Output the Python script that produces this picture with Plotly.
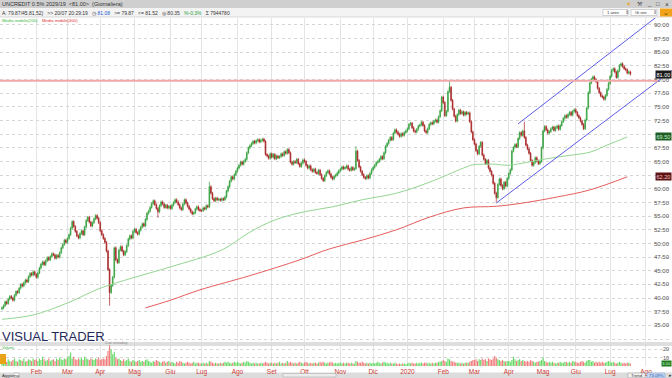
import numpy as np
import pandas as pd
import plotly.graph_objects as go

START = "2019-01-02"

# ---- daily closes, one list per month ----
c_2019_01 = [38.2, 38.6, 39.3, 39.0, 39.8, 40.3, 40.0, 39.6, 40.5, 41.2, 41.0, 41.8, 42.5, 42.2, 42.8, 43.3, 43.0, 43.9, 44.5, 44.2, 44.8, 44.3]
c_2019_02 = [43.8, 44.6, 45.5, 46.2, 46.6, 46.1, 46.8, 47.4, 47.0, 47.6, 48.1, 47.9, 47.3, 47.8, 47.5, 48.3, 49.2, 49.8, 50.6, 50.2]
c_2019_03 = [50.9, 51.6, 52.8, 54.0, 53.1, 52.2, 51.4, 51.0, 51.8, 52.3, 51.6, 53.0, 54.2, 54.8, 53.9, 53.2, 53.8, 54.5, 55.1, 54.6, 53.8]
c_2019_04 = [52.3, 51.6, 50.9, 50.2, 48.6, 45.2, 41.0, 42.3, 43.8, 49.2, 47.0, 46.5, 48.8, 49.4, 48.6, 47.9, 48.5, 49.6, 50.8, 51.4, 51.0, 52.2]
c_2019_05 = [52.6, 52.0, 51.7, 52.4, 53.0, 53.6, 53.2, 54.4, 55.5, 55.9, 56.6, 57.3, 57.8, 57.1, 56.4, 55.8, 56.9, 57.6, 57.2, 56.6, 57.0, 56.5, 56.8]
c_2019_06 = [56.4, 57.0, 57.5, 58.0, 57.6, 57.1, 56.5, 56.2, 57.2, 58.0, 57.4, 56.8, 56.3, 55.8, 55.4, 55.6, 56.3, 56.7, 56.2, 56.0]
c_2019_07 = [56.0, 56.5, 56.3, 56.9, 56.7, 60.4, 59.2, 58.2, 57.8, 58.3, 58.0, 58.1, 57.9, 58.2, 58.0, 58.5, 59.6, 60.4, 61.4, 62.2, 61.8, 62.6, 63.2]
c_2019_08 = [63.8, 64.3, 64.9, 64.5, 65.0, 65.4, 66.6, 67.5, 67.9, 68.3, 68.7, 68.4, 68.8, 69.0, 68.6, 68.9, 69.1, 68.7, 66.3, 66.0, 65.6, 66.4]
c_2019_09 = [65.8, 66.3, 65.5, 66.0, 65.7, 65.9, 66.4, 66.1, 66.8, 66.5, 67.2, 66.6, 64.9, 64.5, 65.0, 64.8, 65.4, 64.6, 64.1, 64.7, 65.3]
c_2019_10 = [65.0, 64.3, 63.8, 64.2, 63.5, 63.2, 63.6, 63.0, 62.8, 63.4, 62.6, 61.9, 61.5, 62.4, 63.0, 63.3, 62.7, 62.1, 61.8, 62.3, 62.5, 62.9, 63.3]
c_2019_11 = [63.6, 64.0, 63.7, 63.9, 64.2, 63.6, 63.4, 63.9, 63.5, 63.7, 66.9, 65.2, 64.0, 63.2, 62.6, 62.1, 61.9, 62.4, 62.0, 62.8, 63.5]
c_2019_12 = [63.9, 64.3, 64.8, 65.0, 65.4, 65.9, 65.5, 66.6, 67.8, 68.3, 68.9, 69.4, 69.0, 70.2, 70.8, 70.4, 70.0, 69.6, 70.1, 69.8, 70.3, 70.6]
c_2020_01 = [71.0, 71.8, 72.0, 71.2, 70.6, 70.4, 70.9, 71.5, 71.7, 72.2, 71.6, 70.6, 70.3, 71.0, 71.8, 72.1, 71.9, 72.4, 72.6, 72.2, 73.2, 74.3, 76.8]
c_2020_02 = [75.8, 73.4, 74.2, 77.8, 78.6, 76.2, 74.6, 73.3, 72.4, 73.6, 74.4, 73.8, 74.1, 73.5, 74.0, 73.7, 73.9, 72.3, 70.4, 69.0]
c_2020_03 = [68.2, 67.0, 66.4, 67.8, 68.5, 66.2, 65.4, 64.6, 65.2, 63.8, 63.2, 62.5, 61.0, 59.2, 58.4, 60.8, 61.8, 60.6, 60.0, 61.2, 60.5, 61.9]
c_2020_04 = [62.8, 63.5, 66.9, 67.6, 68.1, 67.7, 69.2, 70.3, 69.8, 70.6, 69.4, 68.0, 67.3, 66.5, 65.2, 64.3, 64.8, 65.7, 65.1, 64.6, 65.0, 67.5]
c_2020_05 = [70.6, 71.4, 70.8, 70.2, 70.5, 71.0, 71.3, 70.7, 71.2, 71.5, 70.9, 71.6, 72.3, 72.9, 73.4, 73.1, 73.6, 74.0, 73.5, 74.2, 74.5]
c_2020_06 = [74.0, 73.4, 73.0, 72.4, 71.8, 71.0, 72.6, 74.8, 77.6, 79.4, 80.1, 80.5, 80.0, 79.6, 78.4, 77.6, 77.0, 76.8, 76.4, 77.1, 78.2, 79.3]
c_2020_07 = [80.6, 81.7, 82.0, 81.4, 80.4, 81.6, 82.6, 82.9, 82.4, 82.0, 81.8, 81.2, 81.4, 81.0]

# ---- daily volumes (millions), one list per month ----
v_2019_01 = [5, 6, 7, 5, 8, 6, 5, 7, 9, 6, 5, 8, 7, 6, 9, 5, 6, 8, 7, 6, 9, 7]
v_2019_02 = [8, 6, 9, 7, 11, 8, 6, 7, 9, 6, 7, 8, 6, 9, 7, 10, 8, 7, 9, 8]
v_2019_03 = [10, 12, 16, 9, 11, 8, 7, 9, 8, 10, 7, 11, 9, 8, 7, 9, 8, 7, 9, 8, 10]
v_2019_04 = [7, 8, 9, 8, 12, 18, 25, 20, 14, 17, 10, 8, 9, 7, 6, 8, 6, 7, 9, 6, 5, 7]
v_2019_05 = [6, 5, 6, 7, 5, 6, 5, 7, 8, 6, 5, 4, 6, 5, 7, 6, 5, 4, 5, 6, 4, 5, 6]
v_2019_06 = [4, 5, 4, 3, 5, 4, 6, 5, 4, 3, 4, 5, 4, 3, 4, 5, 3, 4, 4, 3]
v_2019_07 = [3, 4, 3, 4, 3, 6, 5, 4, 3, 4, 3, 3, 4, 3, 4, 5, 4, 5, 4, 3, 4, 5, 4]
v_2019_08 = [5, 4, 3, 4, 5, 4, 6, 5, 4, 3, 4, 3, 4, 3, 3, 4, 3, 4, 5, 4, 3, 4]
v_2019_09 = [4, 3, 4, 3, 4, 5, 3, 4, 3, 4, 6, 4, 5, 4, 3, 4, 3, 4, 5, 4, 3]
v_2019_10 = [4, 5, 4, 3, 4, 3, 4, 4, 3, 4, 5, 4, 5, 4, 3, 4, 4, 5, 4, 3, 4, 3, 4]
v_2019_11 = [4, 3, 4, 3, 4, 4, 3, 4, 3, 3, 6, 5, 4, 4, 5, 4, 3, 4, 3, 4, 3]
v_2019_12 = [4, 3, 4, 5, 4, 3, 4, 5, 4, 4, 3, 4, 3, 3, 4, 3, 2, 3, 2, 3, 3, 2]
v_2020_01 = [3, 4, 3, 4, 3, 3, 4, 3, 4, 4, 3, 4, 4, 3, 4, 3, 4, 3, 4, 4, 5, 5, 6]
v_2020_02 = [7, 6, 5, 9, 8, 6, 5, 5, 4, 4, 4, 3, 4, 3, 4, 4, 4, 5, 6, 7]
v_2020_03 = [7, 8, 6, 8, 7, 9, 7, 8, 6, 9, 8, 7, 9, 12, 10, 8, 7, 6, 7, 6, 5, 6]
v_2020_04 = [6, 5, 7, 11, 8, 6, 7, 8, 6, 7, 6, 5, 6, 5, 7, 6, 5, 4, 5, 5, 6, 7]
v_2020_05 = [10, 6, 5, 4, 5, 4, 5, 4, 3, 4, 4, 5, 4, 4, 5, 5, 4, 5, 4, 6, 5]
v_2020_06 = [5, 4, 4, 5, 6, 5, 4, 6, 7, 7, 5, 6, 4, 5, 4, 5, 4, 5, 4, 4, 5, 6]
v_2020_07 = [5, 4, 5, 4, 3, 4, 5, 4, 3, 4, 3, 4, 4, 3]

first_open = 38.0
low_spikes = {"2019-04-09": 38.6, "2019-05-22": 54.7, "2020-03-20": 57.5}
high_spikes = {"2019-07-08": 61.3, "2019-11-15": 67.8, "2020-02-07": 79.8, "2020-04-15": 72.3}

# moving averages
ma200_dates = ["2019-01-02", "2019-01-30", "2019-03-01", "2019-04-01", "2019-04-30", "2019-06-03", "2019-07-18",
               "2019-08-12", "2019-09-04", "2019-10-01", "2019-10-25", "2019-11-21", "2019-12-23", "2020-01-21",
               "2020-02-20", "2020-02-28", "2020-03-12", "2020-03-20", "2020-03-31", "2020-04-14", "2020-04-29",
               "2020-05-14", "2020-05-28", "2020-06-12", "2020-06-29", "2020-07-16"]
ma200_vals = [36.1, 36.9, 39.1, 41.8, 43.7, 45.7, 48.8, 51.9, 54.3, 55.8, 56.7, 58.0, 59.2, 61.2,
              63.8, 64.4, 64.5, 64.5, 64.3, 64.7, 65.3, 65.8, 66.2, 66.7, 68.0, 69.5]
ma400_dates = ["2019-05-10", "2019-06-03", "2019-06-28", "2019-08-13", "2019-09-26", "2019-10-23", "2019-11-21",
               "2019-12-23", "2020-01-21", "2020-02-20", "2020-03-20", "2020-04-14", "2020-05-14", "2020-06-12",
               "2020-07-16"]
ma400_vals = [38.2, 39.6, 41.5, 44.1, 47.0, 49.0, 50.6, 52.5, 54.8, 56.5, 56.8, 57.4, 58.5, 59.8, 62.2]

resistance_level = 79.8
channel_low_dates = ["2020-03-20", "2020-07-28"]
channel_low_vals = [57.4, 77.2]
channel_up_dates = ["2020-04-09", "2020-07-28"]
channel_up_vals = [71.9, 89.1]

month_starts = ["2019-01-01", "2019-02-01", "2019-03-01", "2019-04-01", "2019-05-01", "2019-06-01", "2019-07-01",
                "2019-08-01", "2019-09-01", "2019-10-01", "2019-11-01", "2019-12-01", "2020-01-01", "2020-02-01",
                "2020-03-01", "2020-04-01", "2020-05-01", "2020-06-01", "2020-07-01", "2020-08-01"]
month_labels = ["Gen", "Feb", "Mar", "Apr", "Mag", "Giu", "Lug", "Ago", "Set", "Ott", "Nov", "Dic", "2020",
                "Feb", "Mar", "Apr", "Mag", "Giu", "Lug", "Ago"]
price_ticks = [32.5, 35.0, 37.5, 40.0, 42.5, 45.0, 47.5, 50.0, 52.5, 55.0, 57.5, 60.0, 62.5, 65.0, 67.5,
               70.0, 72.5, 75.0, 77.5, 80.0, 82.5, 85.0, 87.5, 90.0]
volume_ticks = [10, 20]

# ---- assemble ----
close = (c_2019_01 + c_2019_02 + c_2019_03 + c_2019_04 + c_2019_05 + c_2019_06 + c_2019_07 + c_2019_08 +
         c_2019_09 + c_2019_10 + c_2019_11 + c_2019_12 + c_2020_01 + c_2020_02 + c_2020_03 + c_2020_04 +
         c_2020_05 + c_2020_06 + c_2020_07)
volume = (v_2019_01 + v_2019_02 + v_2019_03 + v_2019_04 + v_2019_05 + v_2019_06 + v_2019_07 + v_2019_08 +
          v_2019_09 + v_2019_10 + v_2019_11 + v_2019_12 + v_2020_01 + v_2020_02 + v_2020_03 + v_2020_04 +
          v_2020_05 + v_2020_06 + v_2020_07)
n = min(len(close), len(volume))
close = close[:n]
volume = volume[:n]


def tday(d):
    return int(np.busday_count(START, d))


x = np.arange(n)
opens = [first_open] + close[:-1]
WICK = 0.25
highs = [max(o, c) + WICK for o, c in zip(opens, close)]
lows = [min(o, c) - WICK for o, c in zip(opens, close)]
for d, v in high_spikes.items():
    i = tday(d)
    if 0 <= i < n:
        highs[i] = v
for d, v in low_spikes.items():
    i = tday(d)
    if 0 <= i < n:
        lows[i] = v

X_LEFT, X_RIGHT = -1.28, 429.7
Y_LO, Y_HI = 31.95, 91.28

GREEN = "#33a03c"
RED = "#a82222"
vol_colors = ["#66d966" if c >= o else "#f07c7c" for o, c in zip(opens, close)]

fig = go.Figure()
fig.add_trace(go.Candlestick(
    x=x, open=opens, high=highs, low=lows, close=close,
    increasing=dict(line=dict(color=GREEN, width=0.7), fillcolor=GREEN),
    decreasing=dict(line=dict(color=RED, width=0.7), fillcolor=RED),
    whiskerwidth=0, xaxis="x", yaxis="y", showlegend=False, hoverinfo="skip"))

fig.add_trace(go.Scatter(x=[tday(d) for d in ma200_dates], y=ma200_vals, mode="lines",
                         line=dict(color="#93d693", width=1, shape="spline"), xaxis="x", yaxis="y",
                         showlegend=False, hoverinfo="skip"))
fig.add_trace(go.Scatter(x=[tday(d) for d in ma400_dates], y=ma400_vals, mode="lines",
                         line=dict(color="#e65c5c", width=1, shape="spline"), xaxis="x", yaxis="y",
                         showlegend=False, hoverinfo="skip"))

for dts, vals in [(channel_low_dates, channel_low_vals), (channel_up_dates, channel_up_vals)]:
    x0, x1 = tday(dts[0]), tday(dts[1])
    slope = (vals[1] - vals[0]) / (x1 - x0)
    xe = X_RIGHT
    ye = vals[0] + slope * (xe - x0)
    fig.add_trace(go.Scatter(x=[x0, xe], y=[vals[0], ye], mode="lines",
                             line=dict(color="#5c5ce8", width=1), xaxis="x", yaxis="y",
                             showlegend=False, hoverinfo="skip"))

fig.add_trace(go.Bar(x=x, y=volume, marker=dict(color=vol_colors, line=dict(width=0)),
                     xaxis="x2", yaxis="y2", showlegend=False, hoverinfo="skip"))

tickvals = [tday(d) for d in month_starts]

# price labels hidden under the value tags (as in the platform)
tag_vals = [ma200_vals[-1], ma400_vals[-1]]
price_text = ["" if any(abs(t - v) < 1.2 for v in tag_vals) else f"{t:.2f}" for t in price_ticks]

H_TOP, H_BOT = 18, 12
PH = 378 - H_TOP - H_BOT


def py(p):
    return (378 - H_BOT - p) / PH


def px(p):
    return p / 672


fig.update_layout(
    width=672, height=378, margin=dict(l=0, r=0, t=H_TOP, b=H_BOT),
    paper_bgcolor="white", plot_bgcolor="white",
    font=dict(family="Liberation Sans", size=6, color="#444"),
    hovermode=False, dragmode=False, showlegend=False, bargap=0.25,
    xaxis=dict(domain=[0, 1], range=[X_LEFT, X_RIGHT], anchor="y", tickvals=tickvals,
               showticklabels=False, showgrid=True, gridcolor="#e4e4e4", gridwidth=1,
               zeroline=False, showline=False, rangeslider=dict(visible=False), fixedrange=True),
    xaxis2=dict(domain=[0, 1], range=[X_LEFT, X_RIGHT], anchor="y2", matches="x", tickvals=tickvals,
                ticktext=month_labels, tickfont=dict(size=6.5, color="#cc3b33"), ticks="",
                showgrid=True, gridcolor="#e4e4e4", zeroline=False, showline=False, fixedrange=True),
    yaxis=dict(domain=[py(342), 1], range=[Y_LO, Y_HI], side="right", tickvals=price_ticks,
               ticktext=price_text, ticklabelposition="inside", tickfont=dict(size=6, color="#555"),
               showgrid=True, gridcolor="#d6d6d6", griddash="dot", zeroline=False, showline=False,
               fixedrange=True),
    yaxis2=dict(domain=[0, py(345)], range=[0, 25], side="right", tickvals=volume_ticks,
                ticktext=[str(v) for v in volume_ticks],
                ticklabelposition="inside", tickfont=dict(size=5.5, color="#555"),
                showgrid=True, gridcolor="#d6d6d6", griddash="dot", zeroline=False, showline=False,
                fixedrange=True),
)

shapes = []
annots = []


def rect(x0, y0, x1, y1, fill, line=None, layer="above"):
    shapes.append(dict(type="rect", xref="paper", yref="paper", x0=px(x0), x1=px(x1), y0=py(y1), y1=py(y0),
                       fillcolor=fill, line=dict(color=line or fill, width=0.6 if line else 0), layer=layer))


def txt(xp, yp, text, size=5, color="#333", anchor="left", family="Liberation Sans", bg=None):
    a = dict(xref="paper", yref="paper", x=px(xp), y=py(yp), text=text, showarrow=False,
             xanchor=anchor, yanchor="middle", font=dict(size=size, color=color, family=family))
    if bg:
        a["bgcolor"] = bg
        a["borderpad"] = 1
    annots.append(a)


# resistance line
shapes.append(dict(type="line", xref="x", yref="y", x0=X_LEFT, x1=X_LEFT + (X_RIGHT - X_LEFT) * 658 / 672,
                   y0=resistance_level, y1=resistance_level, line=dict(color="#f2a8a8", width=2), layer="above"))
# panel separators
for p in (343, 345):
    shapes.append(dict(type="line", xref="paper", yref="paper", x0=0, x1=1, y0=py(p), y1=py(p),
                       line=dict(color="#bdbdbd", width=1)))

# title bar + info bar
rect(0, 0, 672, 8, "#cfcfcf")
rect(0, 8, 672, 17, "#f3f3f3")
shapes.append(dict(type="line", xref="paper", yref="paper", x0=0, x1=1, y0=py(17), y1=py(17),
                   line=dict(color="#c4c4c4", width=0.6)))
txt(0, 4, "UNCREDIT 0.5% 2029/19  &lt;81.00&gt;  (Giornaliera)", size=5.5, color="#333")
txt(624, 4, "☀", size=6, color="#f0a000")
txt(635, 4, "⚒", size=5.5, color="#555")
txt(645, 4, "_", size=6, color="#333")
txt(654, 4, "□", size=6, color="#333")
txt(663, 4, "×", size=6.5, color="#333")

info = ("A: 79.87/45.81,52)   &gt;&gt; 20/07 20:29:19   ◷ <span style='color:#2a5bd7'>81.08</span>"
        "   &gt;= 79.87   &lt;= 81.52   ◎ 80.35   <span style='color:#2e9e3e'>%-0.3%</span>   Σ 7944780")
txt(0, 12.5, info, size=5, color="#333")

rect(603, 9.5, 628, 15.5, "#ffffff", line="#b5b5b5")
txt(605, 12.5, "1 anni", size=4.3, color="#333")
txt(623, 12.5, "⇕", size=4.5, color="#555")
rect(631, 9.5, 657, 15.5, "#ffffff", line="#b5b5b5")
txt(633, 12.5, "Gi ore", size=4.3, color="#333")
txt(651, 12.5, "⇕", size=4.5, color="#555")
rect(660, 8.5, 672, 16.5, "#f0a21a")
txt(666, 12.5, "⌄", size=7, color="#5a3a00", anchor="center")

# legend
txt(0, 20.5, "Media mobile(200)", size=4.3, color="#3cb83c")
txt(40, 20.5, "Media mobile(400)", size=4.3, color="#e03030")

# watermark & volume labels
txt(0, 336, "VISUAL TRADER", size=13, color="#1f2a5c", family="Liberation Sans")
txt(103, 342.5, "Dati intraday", size=4, color="#8a8a8a")
txt(0, 347.5, "Volumi", size=4, color="#3cb83c")
rect(0, 354, 6, 364, "#e8a317")

# bottom bar
rect(0, 372.5, 672, 378, "#dcdcdc", layer="below")
txt(0, 375.3, "Aggiorna", size=4.3, color="#333")
rect(14, 373, 19, 377.5, "#ffffff", line="#a0a0a0")
rect(283, 373.5, 336, 377, "#ececec", line="#b0b0b0")
rect(628, 373, 645, 377.8, "#f4f4f4", line="#a0a0a0")
txt(636.5, 375.3, "Trend", size=4.3, color="#333", anchor="center")
rect(647, 373, 665, 377.8, "#c9daf2", line="#8aa6d6")
txt(656, 375.3, "73.09%", size=4.3, color="#1d4aa8", anchor="center")
txt(667, 375.3, "▸", size=4.5, color="#333")

# value tags at the right edge
annots.append(dict(xref="paper", yref="y", x=1, y=close[-1], text=f"{close[-1]:.2f}", showarrow=False,
                   xanchor="right", yanchor="middle", bgcolor="#1a1a1a", borderpad=0.5,
                   font=dict(size=5.5, color="white")))
annots.append(dict(xref="paper", yref="y", x=1, y=ma200_vals[-1], text=f"{ma200_vals[-1]:.2f}", showarrow=False,
                   xanchor="right", yanchor="middle", bgcolor="#1f5f27", borderpad=0.5,
                   font=dict(size=5.5, color="#c8f0c8")))
annots.append(dict(xref="paper", yref="y", x=1, y=ma400_vals[-1], text=f"{ma400_vals[-1]:.2f}", showarrow=False,
                   xanchor="right", yanchor="middle", bgcolor="#5e1414", borderpad=0.5,
                   font=dict(size=5.5, color="#f4c8c8")))
annots.append(dict(xref="paper", yref="paper", x=1, y=py(363.5), text=f"{volume[-1]:.2f}", showarrow=False,
                   xanchor="right", yanchor="middle", bgcolor="#1d7a1d", borderpad=0,
                   font=dict(size=4.3, color="#d8f5d8")))

fig.update_layout(shapes=shapes, annotations=annots)
fig.write_html("out.html", config={"displayModeBar": False, "staticPlot": True})
